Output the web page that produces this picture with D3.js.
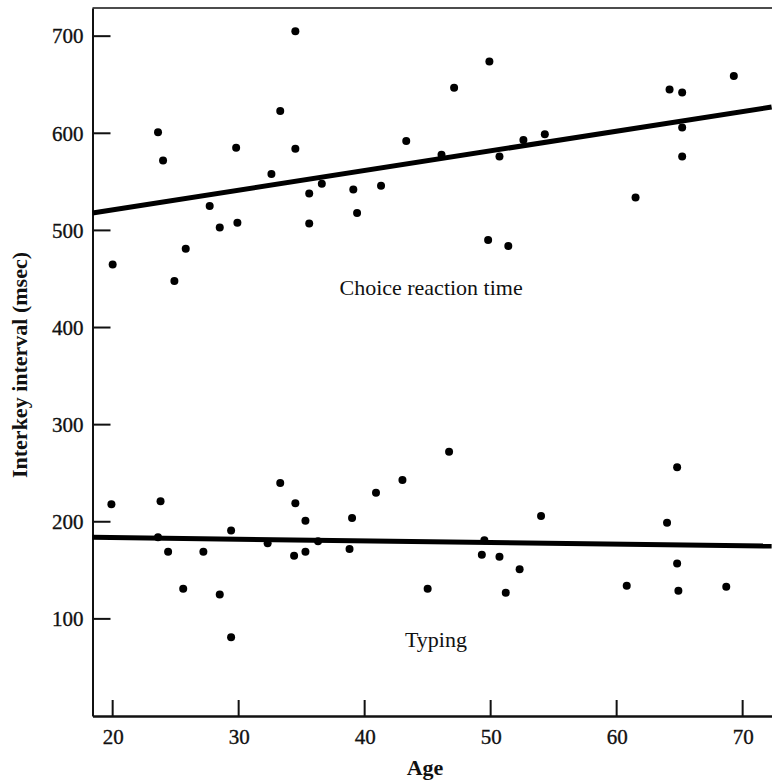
<!DOCTYPE html>
<html>
<head>
<meta charset="utf-8">
<script src="https://cdn.jsdelivr.net/npm/d3@7"></script>
<style>
  html, body { margin: 0; padding: 0; background: #fff; }
  svg { display: block; }
  text { font-family: "Liberation Serif", "Times New Roman", serif; fill: #111; }
</style>
</head>
<body>
<svg id="chart" width="772" height="780"></svg>
<script>
// Tick values
const ageTicks = [20, 30, 40, 50, 60, 70];
const msTicks = [100, 200, 300, 400, 500, 600, 700];

// Choice reaction time: age of each subject and interkey interval (msec)
const choiceAge = [20.0, 23.6, 24.0, 24.9, 25.8, 27.7, 28.5, 29.8, 29.9, 32.6, 33.3, 34.5,
                   34.5, 35.6, 35.6, 36.6, 39.1, 39.4, 41.3, 43.3, 46.1, 47.1, 49.9, 49.8,
                   50.7, 51.4, 52.6, 54.3, 61.5, 64.2, 65.2, 65.2, 65.2, 69.3];
const choiceMs  = [465, 601, 572, 448, 481, 525, 503, 585, 508, 558, 623, 705,
                   584, 538, 507, 548, 542, 518, 546, 592, 578, 647, 674, 490,
                   576, 484, 593, 599, 534, 645, 642, 606, 576, 659];

// Typing: age of each subject and interkey interval (msec)
const typingAge = [19.9, 23.8, 23.6, 24.4, 27.2, 25.6, 28.5, 29.4, 29.4, 33.3, 34.5, 35.3,
                   32.3, 34.4, 35.3, 36.3, 38.8, 39.0, 40.9, 43.0, 45.0, 46.7, 49.5, 49.3,
                   50.7, 52.3, 51.2, 54.0, 60.8, 64.0, 64.8, 64.8, 64.9, 68.7];
const typingMs  = [218, 221, 184, 169, 169, 131, 125, 191, 81, 240, 219, 201,
                   178, 165, 169, 180, 172, 204, 230, 243, 131, 272, 181, 166,
                   164, 151, 127, 206, 134, 199, 256, 157, 129, 133];

// Fitted trend lines (end points: age, msec)
const choiceFitAge = [18.4, 72.3];
const choiceFitMs  = [518, 627];
const typingFitAge = [18.4, 72.3];
const typingFitMs  = [184, 175];

// Series labels
const seriesLabels = ["Choice reaction time", "Typing"];

const svg = d3.select("#chart");

const x = d3.scaleLinear().domain([18.4, 72.33]).range([92.5, 772]);
const y = d3.scaleLinear().domain([0, 729]).range([716, 8]);

const ink = "#111";
const x0 = x.range()[0];
const y0 = y.range()[0];

// Frame: top rule
svg.append("path")
  .attr("d", `M${x0},${y.range()[1]}H${x.range()[1]}`)
  .attr("fill", "none").attr("stroke", ink).attr("stroke-width", 1.6);

// Inward tick marks on both axes, drawn as thin filled bars
svg.append("g").selectAll("rect")
  .data(msTicks)
  .join("rect")
  .attr("x", x0).attr("y", d => y(d) - 1)
  .attr("width", 18).attr("height", 2)
  .attr("fill", ink);

svg.append("g").selectAll("rect")
  .data(ageTicks)
  .join("rect")
  .attr("x", d => x(d) - 1).attr("y", y0 - 16)
  .attr("width", 2).attr("height", 16)
  .attr("fill", ink);

// Y axis line and labels
const yAxis = svg.append("g")
  .attr("transform", `translate(${x0},0)`)
  .call(d3.axisLeft(y).tickValues(msTicks).tickSize(0).tickPadding(9));
yAxis.attr("font-family", null).attr("font-size", null);
yAxis.select(".domain").attr("stroke", ink).attr("stroke-width", 2);
yAxis.selectAll(".tick text")
  .attr("font-size", 21).attr("fill", ink)
  .attr("stroke", ink).attr("stroke-width", 0.35);

// X axis line and labels
const xAxis = svg.append("g")
  .attr("transform", `translate(0,${y0})`)
  .call(d3.axisBottom(x).tickValues(ageTicks).tickSize(0).tickPadding(13));
xAxis.attr("font-family", null).attr("font-size", null);
xAxis.select(".domain").attr("stroke", ink).attr("stroke-width", 2.6);
xAxis.selectAll(".tick text")
  .attr("font-size", 21).attr("fill", ink)
  .attr("stroke", ink).attr("stroke-width", 0.35);

// Axis titles
svg.append("text")
  .attr("transform", "translate(27,365) rotate(-90)")
  .attr("text-anchor", "middle")
  .attr("font-size", 22).attr("font-weight", "bold")
  .text("Interkey interval (msec)");

svg.append("text")
  .attr("x", 425).attr("y", 775)
  .attr("text-anchor", "middle")
  .attr("font-size", 22).attr("font-weight", "bold")
  .text("Age");

// Trend lines
const line = d3.line().x(d => x(d[0])).y(d => y(d[1]));
svg.append("path")
  .datum(d3.zip(choiceFitAge, choiceFitMs))
  .attr("d", line).attr("fill", "none")
  .attr("stroke", "#000").attr("stroke-width", 5);
svg.append("path")
  .datum(d3.zip(typingFitAge, typingFitMs))
  .attr("d", line).attr("fill", "none")
  .attr("stroke", "#000").attr("stroke-width", 5);

// Data points
svg.append("g").selectAll("circle")
  .data(d3.zip(choiceAge, choiceMs))
  .join("circle")
  .attr("cx", d => x(d[0])).attr("cy", d => y(d[1]))
  .attr("r", 4).attr("fill", "#000");

svg.append("g").selectAll("circle")
  .data(d3.zip(typingAge, typingMs))
  .join("circle")
  .attr("cx", d => x(d[0])).attr("cy", d => y(d[1]))
  .attr("r", 4).attr("fill", "#000");

// Series labels
svg.append("text")
  .attr("x", x(38)).attr("y", y(433))
  .attr("font-size", 22)
  .text(seriesLabels[0]);
svg.append("text")
  .attr("x", x(43.2)).attr("y", y(71))
  .attr("font-size", 22)
  .text(seriesLabels[1]);
</script>
</body>
</html>
